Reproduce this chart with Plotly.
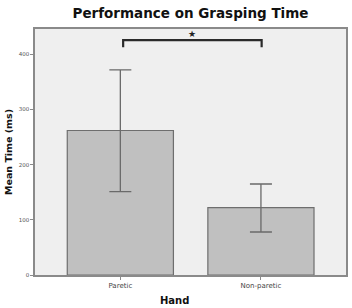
import plotly.graph_objects as go

categories = ["Paretic", "Non-paretic"]
means = [262, 122]
err_upper = [372, 165]
err_lower = [151, 78]
y_ticks = [0, 100, 200, 300, 400]
bracket_level = 426
bracket_drop = 413
sig_label = "★"

plus = [u - m for u, m in zip(err_upper, means)]
minus = [m - l for m, l in zip(means, err_lower)]
xs = list(range(len(categories)))

fig = go.Figure()
fig.add_trace(go.Bar(
    x=xs, y=means, width=0.755,
    marker=dict(color="#c0c0c0", line=dict(color="#6e6e6e", width=1.2)),
    error_y=dict(type="data", symmetric=False, array=plus, arrayminus=minus,
                 color="#6a6a6a", thickness=1.3, width=11),
    showlegend=False,
))

# significance bracket
x0, x1 = xs[0] + 0.02, xs[1] + 0.005
fig.add_shape(type="path", xref="x", yref="y",
              path=f"M {x0} {bracket_drop} L {x0} {bracket_level} L {x1} {bracket_level} L {x1} {bracket_drop}",
              line=dict(color="#2a2a2a", width=2.2))
fig.add_annotation(x=(x0 + x1) / 2, y=bracket_level, xref="x", yref="y",
                   text=sig_label, showarrow=False, yanchor="bottom", yshift=-1,
                   font=dict(size=9, color="#222222", family="DejaVu Sans"))

# x-axis title (centred on the page in the reference)
fig.add_annotation(text="<b>Hand</b>", xref="paper", yref="paper", x=0.45, y=0,
                   yshift=-33, yanchor="bottom", showarrow=False,
                   font=dict(size=10, color="#111111", family="DejaVu Sans"))

fig.update_layout(
    width=352, height=308,
    margin=dict(l=35, r=4, t=29, b=33),
    paper_bgcolor="white", plot_bgcolor="#efefef",
    title=dict(text="<b>Performance on Grasping Time</b>", x=0.5, xref="paper", xanchor="center",
               y=0.957, yanchor="middle",
               font=dict(family="DejaVu Sans", size=13.5, color="#111111")),
    font=dict(family="DejaVu Sans"),
)
fig.update_xaxes(
    range=[-0.607, 1.605], tickmode="array", tickvals=xs, ticktext=categories,
    showline=True, linecolor="#8a8a8a", linewidth=1.5, mirror=True,
    ticks="outside", ticklen=3, tickcolor="#8a8a8a",
    tickfont=dict(size=7, color="#444444", family="DejaVu Sans"),
    showgrid=False, zeroline=False,
)
fig.update_yaxes(
    range=[0, 446], tickmode="array", tickvals=y_ticks,
    showline=True, linecolor="#8a8a8a", linewidth=1.5, mirror=True,
    ticks="outside", ticklen=3, tickcolor="#8a8a8a",
    tickfont=dict(size=5.5, color="#555555", family="DejaVu Sans"),
    showgrid=False, zeroline=False,
    title=dict(text="<b>Mean Time (ms)</b>", font=dict(size=9.5, color="#111111", family="DejaVu Sans"), standoff=4),
)

fig.write_html("out.html")
